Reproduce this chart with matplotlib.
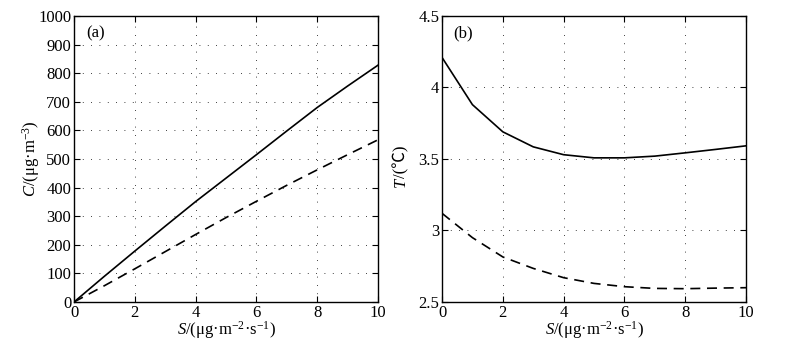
import matplotlib
matplotlib.use("Agg")
import matplotlib.pyplot as plt
import numpy as np

plt.rcParams['font.family'] = ['Liberation Serif', 'Noto Sans CJK SC']
plt.rcParams['mathtext.fontset'] = 'custom'
plt.rcParams['mathtext.rm'] = 'Liberation Serif'
plt.rcParams['mathtext.it'] = 'Liberation Serif:italic'

S = [0, 1, 2, 3, 4, 5, 6, 7, 8, 9, 10]
C_solid = [0, 90, 178, 265, 351, 433, 515, 598, 680, 755, 828]
C_dashed = [0, 57, 116, 176, 236, 295, 352, 408, 462, 515, 567]
T_solid = [4.21, 3.88, 3.69, 3.585, 3.53, 3.508, 3.508, 3.52, 3.543, 3.567, 3.592]
T_dashed = [3.12, 2.95, 2.815, 2.735, 2.67, 2.63, 2.607, 2.595, 2.593, 2.597, 2.60]

xticks = [0, 2, 4, 6, 8, 10]
yticks_a = [0, 100, 200, 300, 400, 500, 600, 700, 800, 900, 1000]
yticks_b = [2.5, 3, 3.5, 4, 4.5]
yticklabels_b = ['2.5', '3', '3.5', '4', '4.5']

W, H = 785, 341
fig = plt.figure(figsize=(7.85, 3.41), dpi=100)
ax1 = fig.add_axes([0.0943, 0.1144, 0.3872, 0.8387])
ax2 = fig.add_axes([0.5631, 0.1144, 0.3872, 0.8387])

fs = 12

def style(ax):
    ax.tick_params(direction='in', top=True, right=True, labelsize=fs, length=4, width=0.8, pad=2)
    ax.grid(True, linestyle=(0, (1, 9)), color='black', linewidth=0.6)
    for sp in ax.spines.values():
        sp.set_linewidth(1.0)
    ax.set_xlim(0, 10)
    ax.set_xticks(xticks)
    ax.set_xlabel(r'$\it{S}$/(μg·m$^{\mathregular{-2}}$·s$^{\mathregular{-1}}$)', fontsize=fs, labelpad=-1)

ax1.plot(S, C_solid, color='black', linestyle='-', linewidth=1.2)
ax1.plot(S, C_dashed, color='black', linestyle=(0, (6, 4)), linewidth=1.2)
ax1.set_ylim(0, 1000)
ax1.set_yticks(yticks_a)
style(ax1)
ax1.set_ylabel(r'$\it{C}$/(μg·m$^{\mathregular{-3}}$)', fontsize=fs, labelpad=-3)
ax1.text(0.07, 0.94, '(a)', transform=ax1.transAxes, fontsize=fs, ha='center', va='center')

ax2.plot(S, T_solid, color='black', linestyle='-', linewidth=1.2)
ax2.plot(S, T_dashed, color='black', linestyle=(0, (6, 4)), linewidth=1.2)
ax2.set_ylim(2.5, 4.5)
ax2.set_yticks(yticks_b)
ax2.set_yticklabels(yticklabels_b)
style(ax2)
ax2.text(0.07, 0.94, '(b)', transform=ax2.transAxes, fontsize=fs, ha='center', va='center')

# y label of panel (b): italic T followed by /(℃), drawn as two rotated texts
lx = 401 / W
ly0 = (H - 187) / H
tT = fig.text(lx, ly0, 'T', rotation=90, ha='center', va='bottom',
              fontsize=fs, fontstyle='italic', family='Liberation Serif')
fig.canvas.draw()
ext = tT.get_window_extent(fig.canvas.get_renderer())
fig.text(lx, ext.y1 / H, '/(℃)', rotation=90, ha='center', va='bottom',
         fontsize=fs, family=['Liberation Serif', 'Noto Sans CJK SC'])

fig.savefig('out.png', dpi=100)
